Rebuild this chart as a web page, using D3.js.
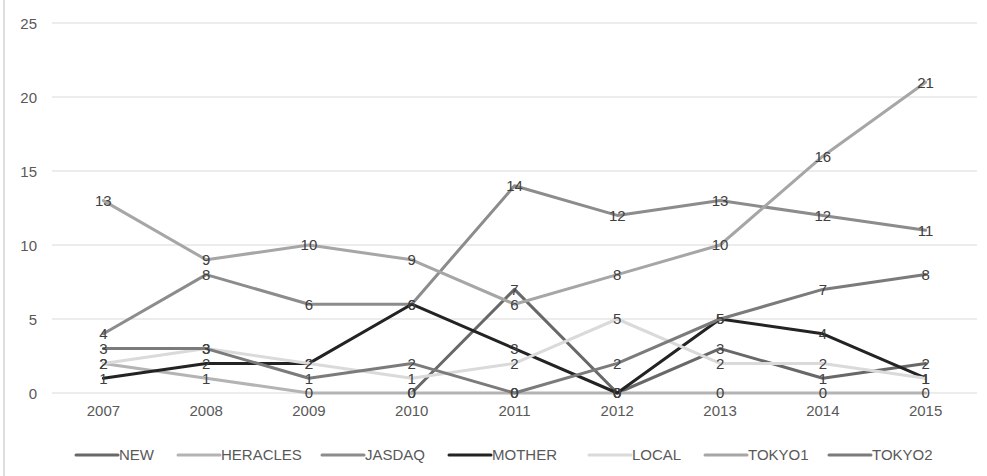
<!DOCTYPE html>
<html>
<head>
<meta charset="utf-8">
<script src="https://cdn.jsdelivr.net/npm/d3@7"></script>
<style>
  html, body { margin: 0; padding: 0; background: #fff; }
  svg { display: block; font-family: "Liberation Sans", Arial, sans-serif; }
</style>
</head>
<body>
<svg id="chart" width="987" height="476"></svg>
<script>
// Yearly counts per market
const years = ["2007", "2008", "2009", "2010", "2011", "2012", "2013", "2014", "2015"];
const seriesNames = ["NEW", "HERACLES", "JASDAQ", "MOTHER", "LOCAL", "TOKYO1", "TOKYO2"];
const NEW      = [null, null, null, 0, 7, 0, 3, 1, 2];
const HERACLES = [2, 1, 0, 0, 0, 0, 0, 0, 0];
const JASDAQ   = [4, 8, 6, 6, 14, 12, 13, 12, 11];
const MOTHER   = [1, 2, 2, 6, 3, 0, 5, 4, 1];
const LOCAL    = [2, 3, 2, 1, 2, 5, 2, 2, 1];
const TOKYO1   = [13, 9, 10, 9, 6, 8, 10, 16, 21];
const TOKYO2   = [3, 3, 1, 2, 0, 2, 5, 7, 8];
const yTicks = [0, 5, 10, 15, 20, 25];

const seriesValues = [NEW, HERACLES, JASDAQ, MOTHER, LOCAL, TOKYO1, TOKYO2];
const seriesColors = ["#686868", "#b4b4b4", "#8c8c8c", "#232323", "#dadada", "#a6a6a6", "#7b7b7b"];

const svg = d3.select("#chart");

// Outer frame edge on the left
svg.append("line")
  .attr("x1", 4).attr("x2", 4).attr("y1", 0).attr("y2", 476)
  .attr("stroke", "#d4d4d4").attr("stroke-width", 1.5);

const plot = { left: 52, right: 977, top: 23, bottom: 393 };

const x = d3.scaleBand().domain(years).range([plot.left, plot.right]);
const y = d3.scaleLinear().domain([0, 25]).range([plot.bottom, plot.top]);
const cx = d => x(d) + x.bandwidth() / 2;

// Horizontal gridlines
svg.append("g").selectAll("line").data(yTicks).join("line")
  .attr("x1", plot.left).attr("x2", plot.right)
  .attr("y1", d => y(d)).attr("y2", d => y(d))
  .attr("stroke", "#d9d9d9").attr("stroke-width", 1);

// Y axis tick labels
const yAxis = svg.append("g")
  .attr("transform", `translate(${plot.left - 15},0)`)
  .call(d3.axisLeft(y).tickValues(yTicks).tickSize(0).tickPadding(0));
yAxis.select(".domain").remove();
yAxis.selectAll("text")
  .attr("fill", "#595959").attr("font-size", 15)
  .attr("font-family", "Liberation Sans, Arial, sans-serif")
  .attr("dy", "0.35em");

// X axis category labels
const xAxis = svg.append("g")
  .attr("transform", `translate(0,${plot.bottom})`)
  .call(d3.axisBottom(x).tickSize(0).tickPadding(12));
xAxis.select(".domain").remove();
xAxis.selectAll("text")
  .attr("fill", "#595959").attr("font-size", 15)
  .attr("font-family", "Liberation Sans, Arial, sans-serif");

// Series lines
const line = d3.line()
  .defined(d => d.v !== null)
  .x(d => cx(d.year))
  .y(d => y(d.v));

const series = seriesNames.map((name, i) => ({
  name,
  color: seriesColors[i],
  points: years.map((yr, j) => ({ year: yr, v: seriesValues[i][j] }))
}));

svg.append("g").selectAll("path").data(series).join("path")
  .attr("d", s => line(s.points))
  .attr("fill", "none")
  .attr("stroke", s => s.color)
  .attr("stroke-width", 3)
  .attr("stroke-linejoin", "round")
  .attr("stroke-linecap", "round");

// Data labels centred on each point
const labelGroup = svg.append("g");
series.forEach(s => {
  labelGroup.selectAll(null)
    .data(s.points.filter(p => p.v !== null))
    .join("text")
    .attr("x", p => cx(p.year))
    .attr("y", p => y(p.v))
    .attr("dy", "0.36em")
    .attr("text-anchor", "middle")
    .attr("font-size", 15)
    .attr("fill", "#404040")
    .text(p => p.v);
});

// Legend
const legendX = [76, 178, 322, 449, 589, 705, 829];
const legendY = 455;
const legend = svg.append("g").selectAll("g").data(series).join("g")
  .attr("transform", (s, i) => `translate(${legendX[i]},${legendY})`);
legend.append("line")
  .attr("x1", 0).attr("x2", 42).attr("y1", 0).attr("y2", 0)
  .attr("stroke", s => s.color).attr("stroke-width", 3)
  .attr("stroke-linecap", "round");
legend.append("text")
  .attr("x", 43).attr("y", 0).attr("dy", "0.36em")
  .attr("font-size", 15).attr("fill", "#595959")
  .text(s => s.name);
</script>
</body>
</html>
